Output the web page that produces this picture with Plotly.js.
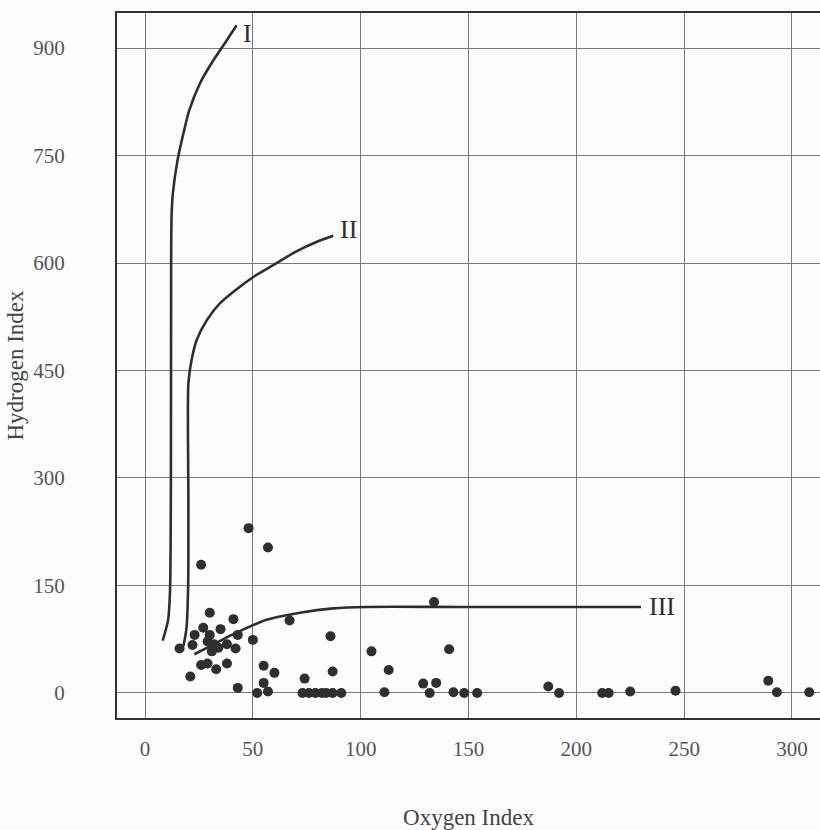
<!DOCTYPE html>
<html>
<head>
<meta charset="utf-8">
<script src="https://cdn.plot.ly/plotly-3.0.1.min.js"></script>
<style>html,body{margin:0;padding:0;background:#fcfcfc;}#chart{width:820px;height:830px;}</style>
</head>
<body>
<div id="chart"></div>
<script>
// Sample points: Oxygen Index (x) and Hydrogen Index (y)
const oxygenIndex = [48, 57, 26, 30, 41, 67, 134, 27, 35, 23, 30, 43, 22, 16, 32, 38, 42, 29, 34, 31, 50, 86, 105, 141,
  26, 29, 33, 38, 21, 55, 60, 87, 113, 74, 43, 55, 52, 57, 73, 76, 79, 82, 84, 87, 91, 111, 129, 135, 132, 143, 148, 154,
  187, 192, 212, 215, 225, 246, 289, 293, 308];
const hydrogenIndex = [230, 203, 179, 112, 103, 101, 127, 91, 89, 81, 81, 81, 67, 62, 68, 68, 62, 72, 63, 58, 74, 79, 58, 61,
  39, 41, 33, 41, 23, 38, 28, 30, 32, 20, 7, 14, 0, 2, 0, 0, 0, 0, 0, 0, 0, 1, 13, 14, 0, 1, 0, 0,
  9, 0, 0, 0, 2, 3, 17, 1, 1];

// Kerogen type evolution curves
const typeIx = [8.2, 10.7, 11.6, 12.0, 12.1, 12.3, 12.9, 15.1, 17.8, 20.5, 25.5, 31.7, 37.9, 42.5];
const typeIy = [73, 102, 144, 300, 600, 665, 697, 744, 781, 813, 851, 883, 911, 932];
const typeIIx = [17.8, 19.2, 20.0, 20.1, 20.1, 21.6, 24.0, 28.6, 34.8, 44.0, 52.0, 60.0, 70.0, 80.0, 87.3];
const typeIIy = [65, 90, 150, 269, 432, 465, 493, 520, 544, 567, 584, 598, 616, 630, 638];
const typeIIIx = [22.9, 30, 41, 56.4, 71.9, 87.3, 102.8, 146, 230];
const typeIIIy = [54, 65, 82, 102, 112, 118, 120, 120, 120];
const curveNames = ['I', 'II', 'III'];

const xTicks = [0, 50, 100, 150, 200, 250, 300];
const yTicks = [0, 150, 300, 450, 600, 750, 900];

const lineStyle = {color: '#2e2e2e', width: 2.6, shape: 'spline', smoothing: 0.7};
const curves = [[typeIx, typeIy], [typeIIx, typeIIy], [typeIIIx, typeIIIy]];

const traces = curves.map((c, i) => ({
  x: c[0], y: c[1], mode: 'lines', type: 'scatter', name: curveNames[i],
  line: lineStyle, hoverinfo: 'skip'
}));
traces.push({
  x: oxygenIndex, y: hydrogenIndex, mode: 'markers', type: 'scatter', name: 'samples',
  marker: {color: '#2f2f2f', size: 10, line: {width: 0}}
});

const labelShifts = [[4, -8], [5, 6], [6, 0]];
const serif = 'Liberation Serif, Times New Roman, serif';
const annotations = curves.map((c, i) => ({
  x: c[0][c[0].length - 1], y: c[1][c[1].length - 1], xref: 'x', yref: 'y',
  text: curveNames[i], showarrow: false, xanchor: 'left', yanchor: 'middle',
  xshift: labelShifts[i][0], yshift: labelShifts[i][1],
  font: {family: serif, size: 26, color: '#2e2e2e'}
}));

const tickFont = {family: serif, size: 21, color: '#555'};
const layout = {
  width: 820, height: 830,
  paper_bgcolor: '#fcfcfc', plot_bgcolor: '#fcfcfc',
  margin: {l: 117, r: 0, t: 13, b: 112},
  showlegend: false,
  annotations: annotations,
  xaxis: {
    range: [-13, 313], tickvals: xTicks, ticktext: xTicks.map(String),
    showgrid: true, gridcolor: '#7a7a7a', gridwidth: 1, zeroline: false,
    showline: true, linecolor: '#333', linewidth: 2, mirror: true,
    ticks: '', ticklabelstandoff: 11, tickfont: tickFont, automargin: false,
    title: {text: 'Oxygen Index', font: {family: serif, size: 23, color: '#444'}, standoff: 50}
  },
  yaxis: {
    range: [-35, 949], tickvals: yTicks, ticktext: yTicks.map(String),
    showgrid: true, gridcolor: '#7a7a7a', gridwidth: 1, zeroline: false,
    showline: true, linecolor: '#333', linewidth: 2, mirror: false,
    ticks: '', ticklabelstandoff: 46, tickfont: tickFont, automargin: false,
    title: {text: 'Hydrogen Index', font: {family: serif, size: 23, color: '#444'}, standoff: 3}
  }
};

Plotly.newPlot('chart', traces, layout, {displayModeBar: false, staticPlot: true});
</script>
</body>
</html>
